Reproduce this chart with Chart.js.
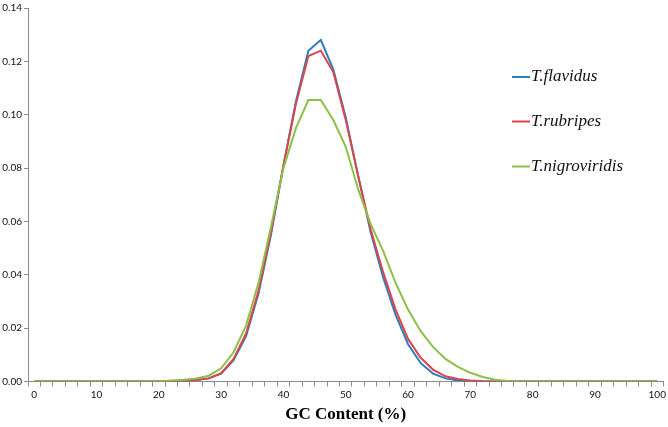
<!DOCTYPE html>
<html>
<head>
<meta charset="utf-8">
<script src="https://cdn.jsdelivr.net/npm/chart.js@4.4.0/dist/chart.umd.min.js"></script>
<style>
  html, body { margin: 0; padding: 0; background: #fff; }
  #wrap { width: 668px; height: 427px; position: relative; }
</style>
</head>
<body>
<div id="wrap"><canvas id="gcChart" width="668" height="427"></canvas></div>
<script>
// GC content bins (every 2%)
const gcBins = [];
for (let g = 0; g <= 100; g += 2) gcBins.push(String(g));

const flavidus = [
  0, 0, 0, 0, 0, 0, 0, 0, 0, 0, 0,
  0.0002, 0.0003, 0.0006, 0.0012, 0.003, 0.008, 0.017, 0.033, 0.055, 0.081,
  0.105, 0.124, 0.128, 0.117, 0.099, 0.077, 0.056, 0.039, 0.025, 0.014,
  0.007, 0.003, 0.0012, 0.0004, 0.0001, 0, 0, 0, 0, 0,
  0, 0, 0, 0, 0, 0, 0, 0, 0, 0
];
const rubripes = [
  0, 0, 0, 0, 0, 0, 0, 0, 0, 0, 0,
  0.0002, 0.0003, 0.0006, 0.0012, 0.0032, 0.0085, 0.018, 0.034, 0.056, 0.081,
  0.104, 0.122, 0.124, 0.116, 0.098, 0.077, 0.057, 0.041, 0.027, 0.016,
  0.009, 0.0045, 0.002, 0.001, 0.0004, 0.0001, 0, 0, 0, 0,
  0, 0, 0, 0, 0, 0, 0, 0, 0, 0
];
const nigroviridis = [
  0, 0, 0, 0, 0, 0, 0, 0, 0, 0, 0,
  0.0004, 0.0007, 0.0012, 0.0022, 0.005, 0.011, 0.021, 0.037, 0.058, 0.080,
  0.095, 0.1055, 0.1055, 0.098, 0.088, 0.072, 0.059, 0.049, 0.037, 0.027,
  0.019, 0.013, 0.0085, 0.0055, 0.0033, 0.0017, 0.0007, 0.0002, 0, 0,
  0, 0, 0, 0, 0, 0, 0, 0, 0, 0
];
const yTicks = [0, 0.02, 0.04, 0.06, 0.08, 0.10, 0.12, 0.14];

const axisGray = '#8c8c8c';
const tickFont = { family: 'Lato, "Open Sans", sans-serif', size: 10 };

// legend drawn inside the plot, like the original
const insideLegend = {
  id: 'insideLegend',
  afterDraw(chart) {
    const ctx = chart.ctx;
    const rows = [77, 121.5, 166.5];
    ctx.save();
    ctx.font = 'italic 17px "Liberation Serif", "Times New Roman", serif';
    ctx.textBaseline = 'middle';
    chart.data.datasets.forEach((ds, i) => {
      const y = rows[i];
      ctx.strokeStyle = ds.borderColor;
      ctx.lineWidth = 2;
      ctx.beginPath();
      ctx.moveTo(512, y);
      ctx.lineTo(530, y);
      ctx.stroke();
      ctx.fillStyle = '#111';
      ctx.fillText(ds.label, 531, y);
    });
    ctx.restore();
  }
};

new Chart(document.getElementById('gcChart'), {
  type: 'line',
  data: {
    labels: gcBins,
    datasets: [
      { label: 'T.flavidus', data: flavidus, borderColor: '#2f7dbd', order: 3 },
      { label: 'T.rubripes', data: rubripes, borderColor: '#d9464c', order: 2 },
      { label: 'T.nigroviridis', data: nigroviridis, borderColor: '#8cc048', order: 1 }
    ]
  },
  options: {
    responsive: false,
    animation: false,
    layout: { padding: { top: 4, right: 3, left: 0, bottom: 2 } },
    elements: {
      line: { borderWidth: 2, tension: 0, fill: false },
      point: { radius: 0, hoverRadius: 0 }
    },
    plugins: { legend: { display: false }, tooltip: { enabled: false } },
    scales: {
      x: {
        type: 'category',
        offset: true,
        grid: { offset: true, drawOnChartArea: false, tickLength: 5, color: axisGray },
        border: { color: axisGray },
        ticks: {
          autoSkip: false, maxRotation: 0, padding: 2,
          font: tickFont, color: '#111',
          callback: function (val, i) { return i % 5 === 0 ? gcBins[i] : ''; }
        },
        title: {
          display: true, text: 'GC Content (%)', color: '#000',
          font: { family: '"Liberation Serif", "Times New Roman", serif', size: 17, weight: 'bold' },
          padding: { top: 2, bottom: 0 }
        }
      },
      y: {
        min: 0, max: 0.14,
        afterBuildTicks: function (s) { s.ticks = yTicks.map(v => ({ value: v })); },
        afterFit: function (s) { s.width = 28; },
        grid: { drawOnChartArea: false, tickLength: 4, color: axisGray },
        border: { color: axisGray },
        ticks: {
          padding: 2, font: tickFont, color: '#111',
          callback: function (v) { return v.toFixed(2); }
        }
      }
    }
  },
  plugins: [insideLegend]
});
</script>
</body>
</html>
